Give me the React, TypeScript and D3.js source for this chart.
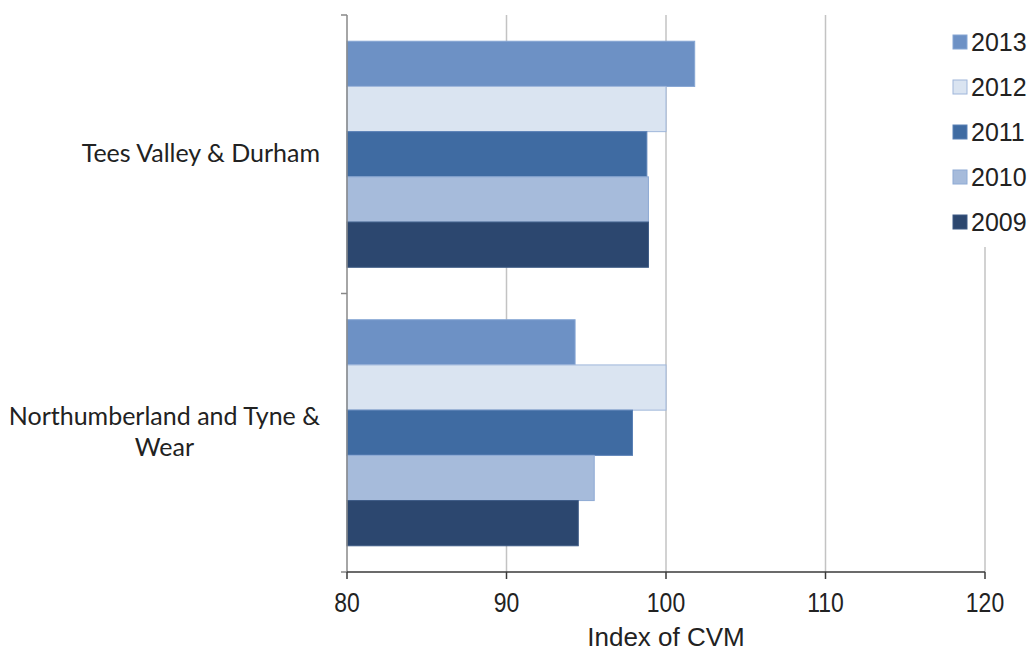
import { useEffect, useRef } from 'react';
import * as d3 from 'd3';

// Data
const categories = ['Tees Valley & Durham', 'Northumberland and Tyne & Wear'];
const seriesNames = ['2013', '2012', '2011', '2010', '2009'];
const values2013 = [101.8, 94.3];
const values2012 = [100.0, 100.0];
const values2011 = [98.8, 97.9];
const values2010 = [98.9, 95.5];
const values2009 = [98.9, 94.5];
const xTicks = [80, 90, 100, 110, 120];

const seriesValues: Record<string, number[]> = {
  '2013': values2013,
  '2012': values2012,
  '2011': values2011,
  '2010': values2010,
  '2009': values2009
};

const seriesColors: Record<string, string> = {
  '2013': '#6d91c5',
  '2012': '#dae4f1',
  '2011': '#3f6ba2',
  '2010': '#a6bbdb',
  '2009': '#2c476f'
};

const seriesStroke: Record<string, string> = {
  '2013': '#86a6d4',
  '2012': '#9fb6da',
  '2011': '#5a81b6',
  '2010': '#8eaad4',
  '2009': '#3d5a85'
};

const WIDTH = 1030;
const HEIGHT = 651;

export default function App() {
  const svgRef = useRef<SVGSVGElement>(null);

  useEffect(() => {
    if (!svgRef.current) return;
    const svg = d3.select(svgRef.current);
    svg.selectAll('*').remove();

    const left = 347;
    const right = 985;
    const top = 15;
    const bottom = 572;

    const x = d3.scaleLinear().domain([80, 120]).range([left, right]);
    const y0 = d3.scaleBand<string>().domain(categories).range([top, bottom]).padding(0);
    const y1 = d3.scaleBand<string>()
      .domain(seriesNames)
      .range([0, y0.bandwidth()])
      .paddingInner(0)
      .paddingOuter(0.58);

    // Vertical gridlines
    svg.append('g')
      .selectAll('line')
      .data(xTicks.slice(1))
      .join('line')
      .attr('x1', d => x(d))
      .attr('x2', d => x(d))
      .attr('y1', top)
      .attr('y2', bottom)
      .attr('stroke', '#c3c3c3')
      .attr('stroke-width', 1.5);

    // Bars
    const groups = svg.append('g')
      .selectAll('g')
      .data(categories)
      .join('g')
      .attr('transform', d => `translate(0,${y0(d)})`);

    groups.each(function (cat, ci) {
      d3.select(this)
        .selectAll('rect')
        .data(seriesNames)
        .join('rect')
        .attr('x', x(80))
        .attr('y', s => y1(s)!)
        .attr('width', s => x(seriesValues[s][ci]) - x(80))
        .attr('height', y1.bandwidth())
        .attr('fill', s => seriesColors[s])
        .attr('stroke', s => seriesStroke[s])
        .attr('stroke-width', 1);
    });

    // Y axis (grey) with ticks at band boundaries
    const yAxisG = svg.append('g');
    yAxisG.append('line')
      .attr('x1', left).attr('x2', left)
      .attr('y1', top).attr('y2', bottom)
      .attr('stroke', '#888888')
      .attr('stroke-width', 1.5);
    const bounds = [top, ...categories.map(c => y0(c)! + y0.bandwidth())];
    yAxisG.selectAll('line.tick')
      .data(bounds)
      .join('line')
      .attr('class', 'tick')
      .attr('x1', left - 6).attr('x2', left)
      .attr('y1', d => d).attr('y2', d => d)
      .attr('stroke', '#888888')
      .attr('stroke-width', 1.5);

    // X axis (dark)
    const xAxisG = svg.append('g');
    xAxisG.append('line')
      .attr('x1', left).attr('x2', right)
      .attr('y1', bottom).attr('y2', bottom)
      .attr('stroke', '#3a3a3a')
      .attr('stroke-width', 1.5);
    xAxisG.selectAll('line.tick')
      .data(xTicks)
      .join('line')
      .attr('class', 'tick')
      .attr('x1', d => x(d)).attr('x2', d => x(d))
      .attr('y1', bottom).attr('y2', bottom + 7)
      .attr('stroke', '#3a3a3a')
      .attr('stroke-width', 1.5);
    xAxisG.selectAll('text')
      .data(xTicks)
      .join('text')
      .attr('transform', d => `translate(${x(d)},612) scale(0.82,1)`)
      .attr('text-anchor', 'middle')
      .attr('font-family', 'Liberation Sans, Arial, sans-serif')
      .attr('font-size', 28)
      .attr('fill', '#222')
      .text(d => d);

    svg.append('text')
      .attr('x', x(100))
      .attr('y', 646)
      .attr('text-anchor', 'middle')
      .attr('font-family', 'Liberation Sans, Arial, sans-serif')
      .attr('font-size', 26)
      .attr('fill', '#222')
      .text('Index of CVM');

    // Category labels, wrapped
    const labelRight = 320;
    const maxWidth = 318;
    const lineHeight = 31;
    categories.forEach(cat => {
      const t = svg.append('text')
        .attr('font-family', 'Lato, Open Sans, sans-serif')
        .attr('font-size', 25)
        .attr('fill', '#222')
        .attr('dominant-baseline', 'middle');
      const words = cat.split(' ');
      const lines: string[] = [];
      let cur = '';
      const probe = t.append('tspan');
      words.forEach(w => {
        const test = cur ? cur + ' ' + w : w;
        probe.text(test);
        if ((probe.node() as SVGTSpanElement).getComputedTextLength() > maxWidth && cur) {
          lines.push(cur);
          cur = w;
        } else {
          cur = test;
        }
      });
      lines.push(cur);
      probe.remove();
      const widths = lines.map(l => {
        const p = t.append('tspan').text(l);
        const wd = (p.node() as SVGTSpanElement).getComputedTextLength();
        p.remove();
        return wd;
      });
      const blockW = Math.max(...widths);
      const cx = labelRight - blockW / 2;
      const cy = y0(cat)! + y0.bandwidth() / 2 + 2;
      lines.forEach((l, i) => {
        t.append('tspan')
          .attr('x', cx)
          .attr('y', cy + (i - (lines.length - 1) / 2) * lineHeight)
          .attr('text-anchor', 'middle')
          .text(l);
      });
    });

    // Legend
    const legend = svg.append('g');
    legend.append('rect')
      .attr('x', 945).attr('y', top)
      .attr('width', WIDTH - 945).attr('height', 232)
      .attr('fill', '#fff');
    const legendY = d3.scalePoint<string>().domain(seriesNames).range([42, 222]);
    const items = legend.selectAll('g')
      .data(seriesNames)
      .join('g')
      .attr('transform', d => `translate(953,${legendY(d)})`);
    items.append('rect')
      .attr('x', 0).attr('y', -7)
      .attr('width', 14).attr('height', 14)
      .attr('fill', d => seriesColors[d])
      .attr('stroke', d => seriesStroke[d])
      .attr('stroke-width', 1);
    items.append('text')
      .attr('x', 18)
      .attr('y', 0)
      .attr('dominant-baseline', 'central')
      .attr('font-family', 'Liberation Sans, Arial, sans-serif')
      .attr('font-size', 25)
      .attr('fill', '#222')
      .text(d => d);
  }, []);

  return (
    <div style={{ position: 'fixed', left: 0, top: 0, width: WIDTH, height: HEIGHT, background: '#fff' }}>
      <svg ref={svgRef} width={WIDTH} height={HEIGHT} />
    </div>
  );
}
